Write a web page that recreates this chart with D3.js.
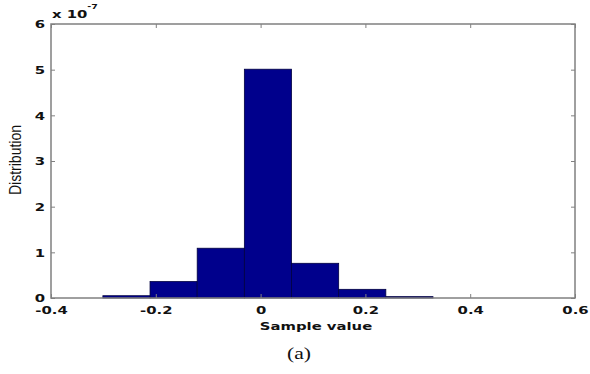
<!DOCTYPE html>
<html><head><meta charset="utf-8">
<script src="https://cdn.jsdelivr.net/npm/d3@7"></script>
<style>body{margin:0;background:#fff}svg{display:block}</style>
</head><body>
<script>
const binEdges = [-0.301, -0.211, -0.121, -0.031, 0.059, 0.149, 0.239, 0.329];
const binCounts = [0.05, 0.36, 1.09, 5.01, 0.76, 0.19, 0.03];
const xTicks = [-0.4, -0.2, 0, 0.2, 0.4, 0.6];
const yTicks = [0, 1, 2, 3, 4, 5, 6];

const W = 590, H = 374;
const SX = 1.35;
const m = {l: 51, r: 575, t: 24, b: 298};
const svg = d3.select("body").append("svg").attr("width", W).attr("height", H);
const x = d3.scaleLinear().domain([-0.4, 0.6]).range([m.l, m.r]);
const y = d3.scaleLinear().domain([0, 6]).range([m.b, m.t]);

const bins = binCounts.map((v, i) => ({x0: binEdges[i], x1: binEdges[i + 1], v}));
svg.append("g").selectAll("rect").data(bins).join("rect")
  .attr("x", d => x(d.x0)).attr("width", d => x(d.x1) - x(d.x0))
  .attr("y", d => y(d.v)).attr("height", d => y(0) - y(d.v))
  .attr("fill", "#00008c").attr("stroke", "#000040").attr("stroke-width", 0.8);

const axCol = "#808080";
const fmt = d => d === 0 ? "0" : d3.format(".1f")(d).replace("−", "-");
const styleAxis = (g, hideText) => {
  g.select(".domain").remove();
  g.selectAll("line").attr("stroke", axCol).attr("stroke-width", 1);
  g.selectAll("text").attr("fill", "#111").attr("font-family", "DejaVu Sans").attr("font-weight", "bold").attr("font-size", 11);
  if (hideText) g.selectAll("text").remove();
};
svg.append("g").attr("transform", `translate(0,${m.b})`)
  .call(d3.axisBottom(x).tickValues(xTicks).tickSize(-4).tickPadding(0).tickFormat(fmt))
  .call(g => styleAxis(g, false))
  .call(g => g.selectAll("text").attr("y", 16).attr("dy", null).attr("transform", `scale(${SX},1)`));
svg.append("g").attr("transform", `translate(0,${m.t})`)
  .call(d3.axisTop(x).tickValues(xTicks).tickSize(-4)).call(g => styleAxis(g, true));
svg.append("g").attr("transform", `translate(${m.l},0)`)
  .call(d3.axisLeft(y).tickValues(yTicks).tickSize(-4).tickPadding(0).tickFormat(d3.format("d")))
  .call(g => styleAxis(g, false))
  .call(g => g.selectAll("text").attr("x", -6 / SX).attr("dy", "0.36em").attr("transform", `scale(${SX},1)`));
svg.append("g").attr("transform", `translate(${m.r},0)`)
  .call(d3.axisRight(y).tickValues(yTicks).tickSize(-4)).call(g => styleAxis(g, true));

svg.append("rect").attr("x", m.l).attr("y", m.t).attr("width", m.r - m.l).attr("height", m.b - m.t)
  .attr("fill", "none").attr("stroke", axCol).attr("stroke-width", 1.5);

const mult = svg.append("text").attr("transform", `translate(52,18) scale(${SX},1)`)
  .attr("font-family", "DejaVu Sans").attr("font-weight", "bold").attr("font-size", 11).attr("fill", "#111");
mult.append("tspan").text("x 10");
mult.append("tspan").attr("dy", -9).attr("font-size", 7).text("-7");

svg.append("text").attr("transform", `translate(${(m.l + m.r) / 2 + 3},330) scale(${SX},1)`).attr("text-anchor", "middle")
  .attr("font-family", "DejaVu Sans").attr("font-weight", "bold").attr("font-size", 11).attr("fill", "#111")
  .text("Sample value");
svg.append("text").attr("transform", "translate(21,160) rotate(-90)").attr("text-anchor", "middle")
  .attr("font-family", "Liberation Sans Narrow, Liberation Sans").attr("font-size", 16).attr("fill", "#111")
  .attr("textLength", 70).attr("lengthAdjust", "spacingAndGlyphs")
  .text("Distribution");
svg.append("text").attr("transform", `translate(299,359) scale(${SX},1)`).attr("text-anchor", "middle")
  .attr("font-family", "Liberation Serif").attr("font-size", 16).attr("fill", "#111").text("(a)");
</script>
</body></html>
